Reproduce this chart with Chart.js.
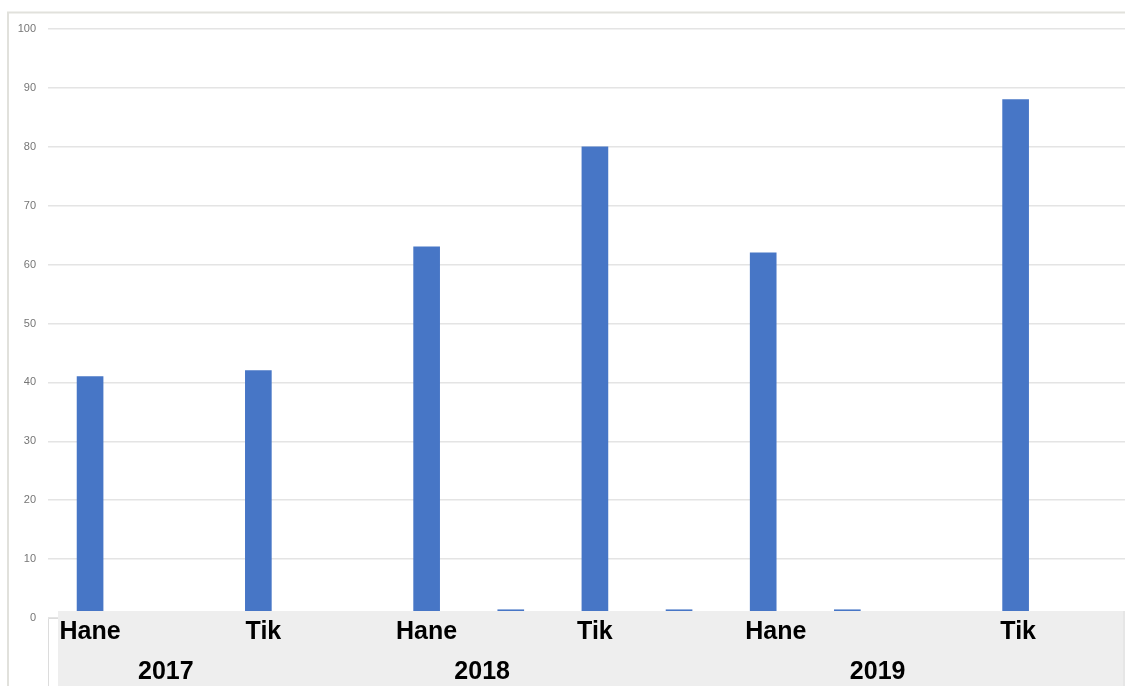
<!DOCTYPE html>
<html>
<head>
<meta charset="utf-8">
<script src="https://cdn.jsdelivr.net/npm/chart.js@4"></script>
<style>
  html, body { margin: 0; padding: 0; background: #ffffff; }
  #wrap { width: 1125px; height: 686px; position: relative; }
</style>
</head>
<body>
<div id="wrap"><canvas id="c" width="1125" height="686"></canvas></div>
<script>
// ---- data ----
const categories = ["Hane", "Tik", "Hane", "Tik", "Hane", "Tik"];
const years = ["2017", "2018", "2019"];
const seriesA = [41, 42, 63, 80, 62, null];
const seriesB = [null, null, 1.4, 1.4, 1.4, 88];
const yTicks = [0, 10, 20, 30, 40, 50, 60, 70, 80, 90, 100];

// label placement in slot units (each category spans 2 slots)
const catLabelSlots = [0, 2.06, 4, 6, 8.15, 11.03];
const yearLabelSlots = [0.9, 4.66, 9.36];

const BAR = "#4776C6";

function pts(arr, off) {
  const out = [];
  arr.forEach((v, i) => { if (v !== null) out.push({ x: 2 * i + off, y: v }); });
  return out;
}

const overlay = {
  id: "overlay",
  afterDraw(chart) {
    const ctx = chart.ctx;
    const xs = chart.scales.x, ys = chart.scales.y;
    const W = chart.width, H = chart.height;
    const zero = ys.getPixelForValue(0);
    ctx.save();
    // outer frame
    ctx.strokeStyle = "#e1e1dc";
    ctx.lineWidth = 2;
    ctx.beginPath();
    ctx.moveTo(8, H + 5);
    ctx.lineTo(8, 12.5);
    ctx.lineTo(W + 5, 12.5);
    ctx.stroke();
    // table cell edge
    ctx.strokeStyle = "#dcdcdc";
    ctx.lineWidth = 1;
    ctx.beginPath();
    ctx.moveTo(48.5, H + 5);
    ctx.lineTo(48.5, zero + 0.5);
    ctx.lineTo(58, zero + 0.5);
    ctx.stroke();
    // gray table band
    ctx.fillStyle = "#eeeeee";
    ctx.fillRect(58, zero - 7, 1123 - 58, H - (zero - 7));
    ctx.fillStyle = "#e6e6e6";
    ctx.fillRect(1123, zero - 7, 2, H - (zero - 7));
    // labels
    ctx.fillStyle = "#000000";
    ctx.font = "bold 25px 'Liberation Sans', Arial, sans-serif";
    ctx.textAlign = "center";
    ctx.textBaseline = "alphabetic";
    categories.forEach((c, i) => {
      ctx.fillText(c, xs.getPixelForValue(catLabelSlots[i]), 639);
    });
    years.forEach((y, i) => {
      ctx.fillText(y, xs.getPixelForValue(yearLabelSlots[i]), 679);
    });
    ctx.restore();
  }
};

new Chart(document.getElementById("c"), {
  type: "bar",
  data: {
    datasets: [
      { data: pts(seriesA, 0), backgroundColor: BAR, barThickness: 26, grouped: false },
      { data: pts(seriesB, 1), backgroundColor: BAR, barThickness: 26, grouped: false }
    ]
  },
  options: {
    responsive: false,
    animation: false,
    devicePixelRatio: 1,
    layout: { padding: { left: 8, right: 0, top: 29, bottom: 68 } },
    plugins: { legend: { display: false }, tooltip: { enabled: false } },
    scales: {
      x: { type: "linear", min: -0.5, max: 12.3, offset: false, display: false },
      y: {
        min: 0, max: 100,
        afterBuildTicks(s) { s.ticks = yTicks.map(v => ({ value: v })); },
        afterFit(s) { s.width = 40; },
        border: { display: false },
        grid: { color: "#e4e4e4", lineWidth: 1.5, drawTicks: false },
        ticks: {
          padding: 12,
          color: "#767676",
          font: { family: "'Liberation Sans', Arial, sans-serif", size: 11 }
        }
      }
    }
  },
  plugins: [overlay]
});
</script>
</body>
</html>
